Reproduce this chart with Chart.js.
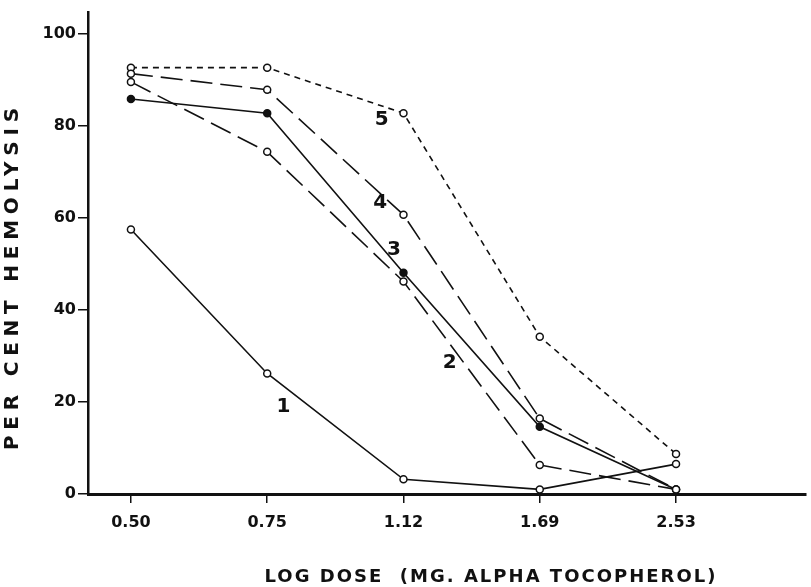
<!DOCTYPE html>
<html>
<head>
<meta charset="utf-8">
<script src="https://cdn.jsdelivr.net/npm/chart.js@4.4.1/dist/chart.umd.min.js"></script>
<style>
  html, body { margin: 0; padding: 0; background: #fff; }
  #wrap { width: 811px; height: 587px; }
</style>
</head>
<body>
<div id="wrap"><canvas id="hemolysisChart" width="811" height="587"></canvas></div>
<script>
// dose levels on the x axis (log dose, mg alpha tocopherol)
const doseLabels = ["0.50", "0.75", "1.12", "1.69", "2.53"];
const percentTicks = [0, 20, 40, 60, 80, 100];

// per cent hemolysis for each numbered curve
const curve1 = [57.5, 26.2, 3.2, 1.0, 6.5];
const curve2 = [89.6, 74.4, 46.2, 6.3, 1.0];
const curve3 = [85.9, 82.8, 48.1, 14.6, 1.0];
const curve4 = [91.4, 87.9, 60.7, 16.4, 1.0];
const curve5 = [92.7, 92.7, 82.8, 34.2, 8.7];

const curveNames = ["1", "2", "3", "4", "5"];
// where each curve number sits, in (dose index, percent) units
const curveNameSpots = [
  [1.12, 18.9],
  [2.34, 28.5],
  [1.93, 53.0],
  [1.83, 63.3],
  [1.84, 81.3],
];

const ink = "#111";

function toPoints(values) {
  return values.map((v, i) => ({ x: i, y: v }));
}

function makeCurve(values, dash, filled) {
  return {
    data: toPoints(values),
    borderColor: ink,
    borderWidth: 1.6,
    borderDash: dash,
    pointRadius: 3.5,
    pointBorderWidth: 1.5,
    pointBorderColor: ink,
    pointBackgroundColor: filled ? ink : "#fff",
    tension: 0,
    clip: false,
  };
}

// draws text spread out so that it fills the given width
function spacedText(ctx, text, cx, cy, width) {
  ctx.letterSpacing = "0px";
  const plain = ctx.measureText(text).width;
  const gap = (width - plain) / text.length;
  ctx.letterSpacing = gap + "px";
  ctx.fillText(text, cx + gap / 2, cy);
}

const textPlugin = {
  id: "curveText",
  afterDatasetsDraw(chart) {
    const ctx = chart.ctx;
    const x = chart.scales.x;
    const y = chart.scales.y;
    ctx.save();
    ctx.fillStyle = ink;
    ctx.textAlign = "center";
    ctx.textBaseline = "middle";

    ctx.font = 'bold 20px "DejaVu Sans"';
    curveNames.forEach((name, i) => {
      ctx.fillText(
        name,
        x.getPixelForValue(curveNameSpots[i][0]),
        y.getPixelForValue(curveNameSpots[i][1])
      );
    });

    // axis titles
    ctx.font = 'bold 18px "DejaVu Sans"';
    spacedText(ctx, "LOG DOSE  (MG. ALPHA TOCOPHEROL)", 490, 577, 453);
    ctx.font = 'bold 20px "DejaVu Sans"';
    ctx.translate(13, 279);
    ctx.rotate(-Math.PI / 2);
    spacedText(ctx, "PER CENT HEMOLYSIS", 0, 0, 348);
    ctx.restore();
  },
};

new Chart(document.getElementById("hemolysisChart"), {
  type: "line",
  data: {
    datasets: [
      makeCurve(curve1, [], false),
      makeCurve(curve2, [22, 8], false),
      makeCurve(curve3, [], true),
      makeCurve(curve4, [22, 8], false),
      makeCurve(curve5, [6, 5], false),
    ],
  },
  options: {
    responsive: false,
    devicePixelRatio: 1,
    animation: false,
    layout: { padding: { top: 12, right: 0, left: 0, bottom: 0 } },
    plugins: { legend: { display: false }, tooltip: { enabled: false } },
    scales: {
      x: {
        type: "linear",
        min: -0.315,
        max: 4.95,
        afterBuildTicks: (scale) => {
          scale.ticks = doseLabels.map((_, i) => ({ value: i }));
        },
        afterFit: (scale) => {
          scale.height = 93;
        },
        ticks: {
          color: ink,
          padding: 10,
          maxRotation: 0,
          font: { family: "DejaVu Sans", size: 16, weight: "bold" },
          callback: (value) => doseLabels[value],
        },
        grid: { drawOnChartArea: false, drawTicks: true, tickLength: 9, color: ink, lineWidth: 1.5 },
        border: { display: true, color: ink, width: 3 },
      },
      y: {
        min: 0,
        max: 104.8,
        afterBuildTicks: (scale) => {
          scale.ticks = percentTicks.map((v) => ({ value: v }));
        },
        afterFit: (scale) => {
          scale.width = 88;
        },
        ticks: {
          color: ink,
          padding: 2,
          font: { family: "DejaVu Sans", size: 16, weight: "bold" },
        },
        grid: { drawOnChartArea: false, drawTicks: true, tickLength: 10, color: ink, lineWidth: 1.5 },
        border: { display: true, color: ink, width: 2.5 },
      },
    },
  },
  plugins: [textPlugin],
});
</script>
</body>
</html>
